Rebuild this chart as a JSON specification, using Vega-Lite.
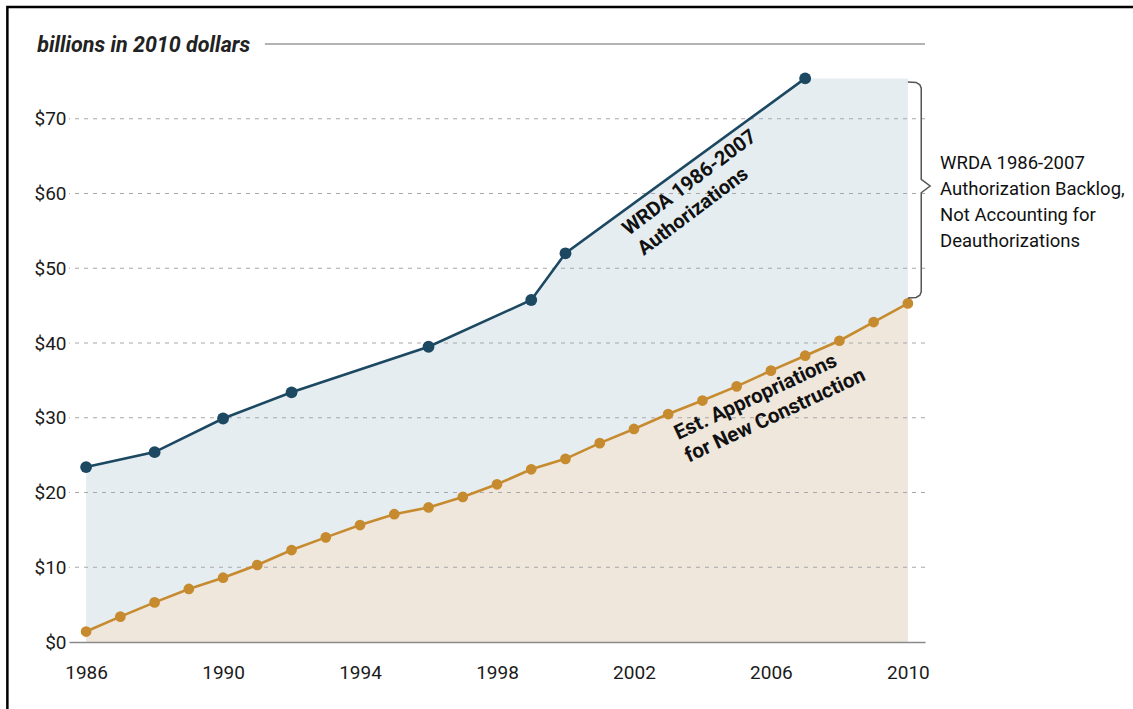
{
  "$schema": "https://vega.github.io/schema/vega-lite/v6.json",
  "width": 856,
  "height": 598,
  "autosize": {"type": "none"},
  "padding": {"left": 69, "top": 44, "right": 208, "bottom": 67},
  "background": "white",
  "config": {
    "view": {"stroke": null},
    "font": "Roboto, Liberation Sans, sans-serif"
  },
  "resolve": {"axis": {"x": "independent", "y": "independent"}},
  "datasets": {
    "auth": [
      {"year": 1986, "value": 23.4, "point": true},
      {"year": 1988, "value": 25.4, "point": true},
      {"year": 1990, "value": 29.9, "point": true},
      {"year": 1992, "value": 33.4, "point": true},
      {"year": 1996, "value": 39.5, "point": true},
      {"year": 1999, "value": 45.75, "point": true},
      {"year": 2000, "value": 52.0, "point": true},
      {"year": 2007, "value": 75.4, "point": true},
      {"year": 2010, "value": 75.4, "point": false}
    ],
    "approp": [
      {"year": 1986, "value": 1.4},
      {"year": 1987, "value": 3.4},
      {"year": 1988, "value": 5.3},
      {"year": 1989, "value": 7.1},
      {"year": 1990, "value": 8.6},
      {"year": 1991, "value": 10.3},
      {"year": 1992, "value": 12.3},
      {"year": 1993, "value": 14.0},
      {"year": 1994, "value": 15.65},
      {"year": 1995, "value": 17.1},
      {"year": 1996, "value": 18.0},
      {"year": 1997, "value": 19.4},
      {"year": 1998, "value": 21.1},
      {"year": 1999, "value": 23.1},
      {"year": 2000, "value": 24.5},
      {"year": 2001, "value": 26.6},
      {"year": 2002, "value": 28.5},
      {"year": 2003, "value": 30.5},
      {"year": 2004, "value": 32.3},
      {"year": 2005, "value": 34.2},
      {"year": 2006, "value": 36.3},
      {"year": 2007, "value": 38.3},
      {"year": 2008, "value": 40.3},
      {"year": 2009, "value": 42.8},
      {"year": 2010, "value": 45.3}
    ],
    "grid": [
      {"v": 10}, {"v": 20}, {"v": 30}, {"v": 40}, {"v": 50}, {"v": 60}, {"v": 70}
    ],
    "brace": [
      {"i": 1, "x": 2010.0, "y": 74.92},
      {"i": 2, "x": 2010.24, "y": 74.86},
      {"i": 3, "x": 2010.35, "y": 74.55},
      {"i": 4, "x": 2010.39, "y": 74.1},
      {"i": 5, "x": 2010.39, "y": 61.9},
      {"i": 6, "x": 2010.65, "y": 61.0},
      {"i": 7, "x": 2010.39, "y": 60.1},
      {"i": 8, "x": 2010.39, "y": 46.85},
      {"i": 9, "x": 2010.35, "y": 46.4},
      {"i": 10, "x": 2010.24, "y": 46.1},
      {"i": 11, "x": 2010.0, "y": 46.02}
    ],
    "labels": [
      {"x": 2001.85, "y": 54.3, "text": ["WRDA 1986-2007", "Authorizations"], "kind": "auth"},
      {"x": 2003.29, "y": 27.02, "text": ["Est. Appropriations", "for New Construction"], "kind": "approp"}
    ]
  },
  "layer": [
    {
      "data": {"name": "auth"},
      "mark": {"type": "area", "color": "#e5edf0", "opacity": 1},
      "encoding": {
        "x": {
          "field": "year", "type": "quantitative",
          "scale": {"domain": [1985.5, 2010.5], "nice": false, "zero": false},
          "axis": {
            "values": [1986, 1990, 1994, 1998, 2002, 2006, 2010],
            "format": "d", "grid": false, "ticks": false,
            "domain": true, "domainColor": "#8a8a8a", "domainWidth": 1.5,
            "labelFontSize": 19, "labelColor": "#1a1a1a", "labelPadding": 21,
            "labelFlush": false, "labelOverlap": false, "title": null, "zindex": 1
          }
        },
        "y": {
          "field": "value", "type": "quantitative",
          "scale": {"domain": [0, 80], "nice": false, "zero": true},
          "axis": {
            "values": [0, 10, 20, 30, 40, 50, 60, 70],
            "labelExpr": "'$' + datum.value",
            "grid": false, "ticks": false, "domain": false,
            "labelFontSize": 19, "labelColor": "#1a1a1a", "labelPadding": 3,
            "labelOverlap": false, "title": null
          }
        }
      }
    },
    {
      "data": {"name": "approp"},
      "mark": {"type": "area", "color": "#efe6dc", "opacity": 1},
      "encoding": {
        "x": {"field": "year", "type": "quantitative", "scale": {"domain": [1985.5, 2010.5], "nice": false, "zero": false}, "axis": null},
        "y": {"field": "value", "type": "quantitative", "scale": {"domain": [0, 80], "nice": false}, "axis": null}
      }
    },
    {
      "data": {"name": "grid"},
      "mark": {"type": "rule", "color": "#a8a8a8", "strokeWidth": 1.2, "strokeDash": [4, 5]},
      "encoding": {
        "y": {"field": "v", "type": "quantitative", "scale": {"domain": [0, 80], "nice": false}, "axis": null}
      }
    },
    {
      "data": {"values": [{}]},
      "mark": {"type": "rule", "color": "#9a9a9a", "strokeWidth": 1.5},
      "encoding": {
        "x": {"datum": 1991.22, "type": "quantitative", "scale": {"domain": [1985.5, 2010.5], "nice": false, "zero": false}, "axis": null},
        "x2": {"datum": 2010.5},
        "y": {"datum": 80, "type": "quantitative", "scale": {"domain": [0, 80], "nice": false}, "axis": null}
      }
    },
    {
      "data": {"values": [{"t": "billions in 2010 dollars"}]},
      "mark": {"type": "text", "align": "left", "baseline": "alphabetic", "fontSize": 21.5, "fontStyle": "italic", "fontWeight": "bold", "color": "#222"},
      "encoding": {
        "x": {"datum": 1984.57, "type": "quantitative", "scale": {"domain": [1985.5, 2010.5], "nice": false, "zero": false}, "axis": null},
        "y": {"datum": 78.93, "type": "quantitative", "scale": {"domain": [0, 80], "nice": false}, "axis": null},
        "text": {"field": "t"}
      }
    },
    {
      "data": {"name": "auth"},
      "transform": [{"filter": "datum.point"}],
      "mark": {"type": "line", "color": "#1c4862", "strokeWidth": 2.6, "point": {"filled": true, "size": 140, "color": "#1c4862", "opacity": 1}},
      "encoding": {
        "x": {"field": "year", "type": "quantitative", "scale": {"domain": [1985.5, 2010.5], "nice": false, "zero": false}, "axis": null},
        "y": {"field": "value", "type": "quantitative", "scale": {"domain": [0, 80], "nice": false}, "axis": null}
      }
    },
    {
      "data": {"name": "approp"},
      "mark": {"type": "line", "color": "#c78b2f", "strokeWidth": 2.6, "point": {"filled": true, "size": 115, "color": "#c78b2f", "opacity": 1}},
      "encoding": {
        "x": {"field": "year", "type": "quantitative", "scale": {"domain": [1985.5, 2010.5], "nice": false, "zero": false}, "axis": null},
        "y": {"field": "value", "type": "quantitative", "scale": {"domain": [0, 80], "nice": false}, "axis": null}
      }
    },
    {
      "data": {"name": "brace"},
      "mark": {"type": "line", "color": "#555555", "strokeWidth": 1.5},
      "encoding": {
        "x": {"field": "x", "type": "quantitative", "scale": {"domain": [1985.5, 2010.5], "nice": false, "zero": false}, "axis": null},
        "y": {"field": "y", "type": "quantitative", "scale": {"domain": [0, 80], "nice": false}, "axis": null},
        "order": {"field": "i"}
      }
    },
    {
      "data": {"name": "labels"},
      "transform": [{"filter": "datum.kind == 'auth'"}],
      "mark": {"type": "text", "align": "left", "baseline": "alphabetic", "angle": -37, "fontSize": 20, "fontWeight": "bold", "lineHeight": 25, "color": "#111"},
      "encoding": {
        "x": {"field": "x", "type": "quantitative", "scale": {"domain": [1985.5, 2010.5], "nice": false, "zero": false}, "axis": null},
        "y": {"field": "y", "type": "quantitative", "scale": {"domain": [0, 80], "nice": false}, "axis": null},
        "text": {"field": "text"}
      }
    },
    {
      "data": {"name": "labels"},
      "transform": [{"filter": "datum.kind == 'approp'"}],
      "mark": {"type": "text", "align": "left", "baseline": "alphabetic", "angle": -25, "fontSize": 20.5, "fontWeight": "bold", "lineHeight": 25, "color": "#111"},
      "encoding": {
        "x": {"field": "x", "type": "quantitative", "scale": {"domain": [1985.5, 2010.5], "nice": false, "zero": false}, "axis": null},
        "y": {"field": "y", "type": "quantitative", "scale": {"domain": [0, 80], "nice": false}, "axis": null},
        "text": {"field": "text"}
      }
    },
    {
      "data": {"values": [{"text": ["WRDA 1986-2007", "Authorization Backlog,", "Not Accounting for", "Deauthorizations"]}]},
      "mark": {"type": "text", "align": "left", "baseline": "middle", "fontSize": 18.5, "lineHeight": 26, "color": "#111"},
      "encoding": {
        "x": {"datum": 2010.94, "type": "quantitative", "scale": {"domain": [1985.5, 2010.5], "nice": false, "zero": false}, "axis": null},
        "y": {"datum": 64.08, "type": "quantitative", "scale": {"domain": [0, 80], "nice": false}, "axis": null},
        "text": {"field": "text"}
      }
    },
    {
      "data": {"values": [{}]},
      "mark": {"type": "rect", "fill": null, "fillOpacity": 0, "stroke": "#000", "strokeWidth": 2.5},
      "encoding": {
        "x": {"datum": 1983.7, "type": "quantitative", "scale": {"domain": [1985.5, 2010.5], "nice": false, "zero": false}, "axis": null},
        "x2": {"datum": 2030},
        "y": {"datum": 84.95, "type": "quantitative", "scale": {"domain": [0, 80], "nice": false}, "axis": null},
        "y2": {"datum": -20}
      }
    }
  ]
}
